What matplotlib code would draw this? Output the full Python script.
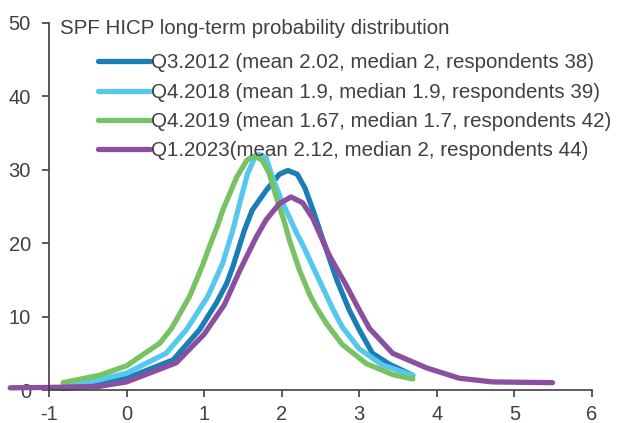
import matplotlib
matplotlib.use("Agg")
from matplotlib import pyplot as plt

plt.rcParams['font.family'] = ['Liberation Sans', 'DejaVu Sans']
plt.rcParams['axes.unicode_minus'] = False

title = "SPF HICP long-term probability distribution"

# Q3.2012
x_q3_2012 = [-0.82, -0.35, 0.0, 0.6, 0.94, 1.16, 1.29, 1.37, 1.52, 1.62, 1.8, 1.97, 2.08, 2.2, 2.3, 2.4,
             2.53, 2.71, 2.87, 3.0, 3.17, 3.39, 3.69]
y_q3_2012 = [0.2, 0.8, 1.6, 4.1, 8.2, 11.9, 14.5, 16.8, 21.8, 24.5, 27.2, 29.4, 29.9, 29.4, 27.5, 24.6,
             20.5, 15.0, 10.9, 8.2, 5.0, 3.5, 2.0]

# Q4.2018
x_q4_2018 = [-0.82, -0.35, 0.0, 0.51, 0.77, 0.85, 1.05, 1.24, 1.37, 1.46, 1.56, 1.65, 1.71, 1.8, 1.88,
             2.01, 2.1, 2.19, 2.27, 2.45, 2.58, 2.66, 2.78, 3.0, 3.3, 3.69]
y_q4_2018 = [0.3, 1.4, 2.3, 5.0, 8.2, 9.5, 12.8, 17.3, 21.8, 25.5, 29.5, 31.6, 32.1, 31.6, 29.0,
             25.5, 23.5, 21.4, 19.8, 15.7, 12.8, 11.0, 8.6, 5.6, 3.4, 2.0]

# Q4.2019
x_q4_2019 = [-0.82, -0.35, 0.0, 0.43, 0.58, 0.81, 0.98, 1.07, 1.17, 1.24, 1.42, 1.55, 1.65, 1.75, 1.84,
             1.93, 2.04, 2.1, 2.23, 2.36, 2.45, 2.58, 2.78, 3.09, 3.43, 3.69]
y_q4_2019 = [1.0, 2.0, 3.3, 6.4, 8.4, 12.7, 17.0, 19.6, 22.3, 24.5, 29.0, 31.3, 31.9, 31.3, 29.5,
             26.3, 22.7, 20.4, 16.3, 13.0, 11.2, 9.0, 6.2, 3.6, 2.1, 1.5]

# Q1.2023
x_q1_2023 = [-1.5, -1.0, -0.35, 0.0, 0.64, 1.0, 1.26, 1.46, 1.67, 1.8, 1.97, 2.12, 2.27, 2.4, 2.45,
             2.62, 2.83, 3.0, 3.13, 3.43, 3.87, 4.29, 4.72, 5.49]
y_q1_2023 = [0.3, 0.35, 0.5, 1.1, 3.7, 7.6, 11.6, 16.3, 20.8, 23.2, 25.4, 26.3, 25.5, 23.4, 22.2,
             18.2, 14.3, 10.9, 8.4, 5.0, 3.0, 1.6, 1.1, 1.0]

labels = ["Q3.2012 (mean 2.02, median 2, respondents 38)",
          "Q4.2018 (mean 1.9, median 1.9, respondents 39)",
          "Q4.2019 (mean 1.67, median 1.7, respondents 42)",
          "Q1.2023(mean 2.12, median 2, respondents 44)"]
colors = ["#1a7db6", "#56c8f0", "#77c263", "#8a4f9e"]

series = [(x_q3_2012, y_q3_2012), (x_q4_2018, y_q4_2018),
          (x_q4_2019, y_q4_2019), (x_q1_2023, y_q1_2023)]

fig = plt.figure(figsize=(6.26, 4.23), dpi=100)
ax = fig.add_axes([49/626, 33/423, 543/626, 367/423])

for (xs, ys), lab, c in zip(series, labels, colors):
    ax.plot(xs, ys, color=c, lw=3.8, label=lab, clip_on=False,
            solid_capstyle='round', solid_joinstyle='round')

ax.set_xlim(-1, 6)
ax.set_ylim(0, 50)
ax.set_xticks(range(-1, 7))
ax.set_yticks(range(0, 51, 10))

gray = "#404040"
for s in ['top', 'right']:
    ax.spines[s].set_visible(False)
for s in ['left', 'bottom']:
    ax.spines[s].set_color(gray)
    ax.spines[s].set_linewidth(1.2)
ax.tick_params(axis='both', colors=gray, labelcolor=gray, labelsize=14.5,
               length=5, width=1.2, direction='out')
ax.tick_params(axis='y', pad=8)
ax.tick_params(axis='x', pad=6)

ax.text(0.02, 0.984, title, transform=ax.transAxes, fontsize=14.8,
        color=gray, va='center', ha='left')
ax.legend(loc='upper left', bbox_to_anchor=(0.09, 0.917), frameon=False,
          fontsize=14.8, handlelength=2.55, handletextpad=0.05,
          labelspacing=0.5, borderaxespad=0, borderpad=0, labelcolor=gray)

fig.savefig("out.png", dpi=100)
